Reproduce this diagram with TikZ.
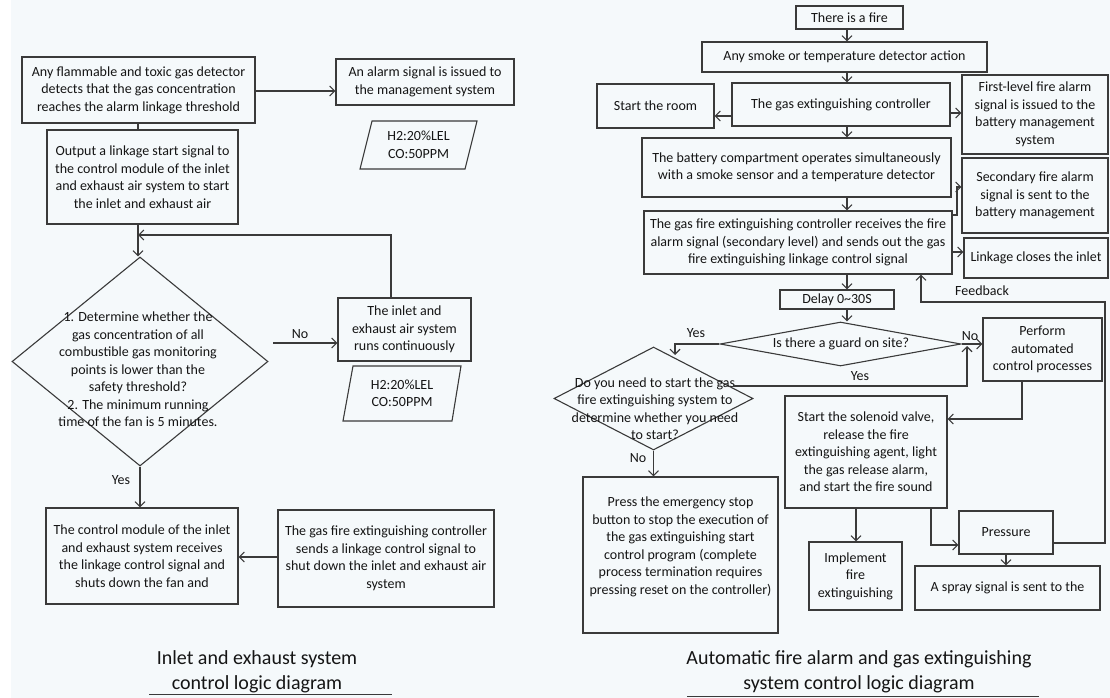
\documentclass[tikz,border=0pt]{standalone}
\usepackage{fontspec}
\setmainfont{Carlito}
\usetikzlibrary{arrows.meta,shapes.geometric,calc}
\definecolor{lc}{HTML}{3A3A3A}
\definecolor{tc}{HTML}{151515}
\definecolor{bg}{HTML}{F5F9FB}
\newcommand{\bxf}{\fontsize{14pt}{17.5pt}\selectfont}
\newcommand{\capf}{\fontsize{20pt}{25pt}\selectfont}
\begin{document}
\begin{tikzpicture}[x=1pt,y=-1pt,
  box/.style={draw=lc, line width=1.1pt, align=center, inner sep=0pt, font=\bxf, text=tc},
  txt/.style={align=center, inner sep=0pt, font=\bxf, text=tc},
  dia/.style={draw=lc, line width=1.1pt, diamond, inner sep=0pt},
  ln/.style={draw=lc, line width=1.1pt},
  arr/.style={ln, -{Straight Barb[length=5pt,width=10pt]}},
  captxt/.style={align=center, inner sep=0pt, font=\capf, text=tc}]
\fill[white] (0,0) rectangle (1110,698);
\fill[bg] (11,0) rectangle (1110,698);
\useasboundingbox (0,0) rectangle (1110,698);
% ---------------- left diagram ----------------
\node[box, minimum width=233pt, minimum height=66pt] (A) at (138.5,90) {Any flammable and toxic gas detector\\detects that the gas concentration\\reaches the alarm linkage threshold};
\node[box, minimum width=178pt, minimum height=46pt] (B) at (425,82) {An alarm signal is issued to\\the management system};
\coordinate (yab) at (0,91);
\draw[arr] (A.east |- yab) -- (B.west |- yab);
\coordinate (p1a) at (372,121); \coordinate (p1b) at (477,121);
\coordinate (p1c) at (465,169); \coordinate (p1d) at (360,169);
\draw[ln] (p1a) -- (p1b) -- (p1c) -- (p1d) -- cycle;
\node[txt] (P1) at (418.5,145) {H2:20\%LEL\\CO:50PPM};
\node[box, minimum width=191pt, minimum height=94pt] (C) at (142.5,177) {Output a linkage start signal to\\the control module of the inlet\\and exhaust air system to start\\the inlet and exhaust air};
\coordinate (xl) at (138,0);
\draw[ln] (A.south -| xl) -- (C.north -| xl);
\node[dia, minimum width=256pt, minimum height=209pt] (Q1) at (140,361.5) {};
\node[txt] (Q1t) at (138,369.5) {1. Determine whether the\\gas concentration of all\\combustible gas monitoring\\points is lower than the\\safety threshold?\\2. The minimum running\\time of the fan is 5 minutes.};
\draw[arr] (C.south -| xl) -- (Q1.north -| xl);
\node[box, minimum width=133pt, minimum height=63pt] (D) at (404.5,329.5) {The inlet and\\exhaust air system\\runs continuously};
\coordinate (lp) at (391,235);
\draw[arr] (D.north -| lp) -- (lp) -- (lp -| xl);
\coordinate (no1) at (273,343);
\draw[arr] (no1) -- (no1 -| D.west);
\node[txt] (NoL) at (300,334) {No};
\coordinate (p2a) at (353,366); \coordinate (p2b) at (461,366);
\coordinate (p2c) at (452,421); \coordinate (p2d) at (343,421);
\draw[ln] (p2a) -- (p2b) -- (p2c) -- (p2d) -- cycle;
\node[txt] (P2) at (402,393.5) {H2:20\%LEL\\CO:50PPM};
\node[box, minimum width=192pt, minimum height=96pt] (E) at (142,556) {The control module of the inlet\\and exhaust system receives\\the linkage control signal and\\shuts down the fan and};
\draw[arr] (Q1.south) -- (Q1.south |- E.north);
\node[txt] (YesL) at (121,480) {Yes};
\node[box, minimum width=216pt, minimum height=97pt] (F) at (386,558.5) {The gas fire extinguishing controller\\sends a linkage control signal to\\shut down the inlet and exhaust air\\system};
\coordinate (yfe) at (0,557);
\draw[arr] (F.west |- yfe) -- (E.east |- yfe);
\node[captxt] (capL) at (257,671.5) {Inlet and exhaust system\\control logic diagram};
\coordinate (ulA) at (149,694); \coordinate (ulB) at (392,694);
\draw[ln, line width=1pt] (ulA) -- (ulB);
% ---------------- right diagram ----------------
\coordinate (ax) at (847,0);
\node[box, minimum width=107pt, minimum height=23pt] (G) at (849.5,17.5) {There is a fire};
\node[box, minimum width=285pt, minimum height=30pt] (H) at (844.5,57) {Any smoke or temperature detector action};
\node[box, minimum width=218pt, minimum height=43pt] (I) at (841,104.5) {The gas extinguishing controller};
\node[box, minimum width=117pt, minimum height=44pt] (J) at (655.5,106) {Start the room};
\node[box, minimum width=146pt, minimum height=79pt] (K) at (1035,114.5) {First-level fire alarm\\signal is issued to the\\battery management\\system};
\node[box, minimum width=309pt, minimum height=59pt] (L) at (796.5,167.5) {The battery compartment operates simultaneously\\with a smoke sensor and a temperature detector};
\node[box, minimum width=146pt, minimum height=75pt] (M) at (1035,195.5) {Secondary fire alarm\\signal is sent to the\\battery management};
\node[box, minimum width=308pt, minimum height=63pt] (N) at (798,242.5) {The gas fire extinguishing controller receives the fire\\alarm signal (secondary level) and sends out the gas\\fire extinguishing linkage control signal};
\node[box, minimum width=144pt, minimum height=40pt] (O) at (1036,258) {Linkage closes the inlet};
\node[box, minimum width=114pt, minimum height=19pt] (Dl) at (837,299.5) {Delay 0\textasciitilde 30S};
\draw[arr] (G.south -| ax) -- (H.north -| ax);
\draw[arr] (H.south -| ax) -- (I.north -| ax);
\draw[arr] (I.south -| ax) -- (L.north -| ax);
\draw[arr] (L.south -| ax) -- (N.north -| ax);
\draw[arr] (N.south -| ax) -- (Dl.north -| ax);
\coordinate (yij) at (0,116);
\draw[arr] (I.west |- yij) -- (J.east |- yij);
\coordinate (yik) at (0,113);
\draw[arr] (I.east |- yik) -- (K.west |- yik);
\coordinate (nm1) at (0,215); \coordinate (nm2) at (957,187);
\draw[arr] (N.east |- nm1) -| (nm2) -- (M.west |- nm2);
\coordinate (yno) at (0,252);
\draw[arr] (N.east |- yno) -- (O.west |- yno);
\node[dia, minimum width=241pt, minimum height=44pt] (Q) at (840.5,344) {};
\node[txt] (Qt) at (841,344) {Is there a guard on site?};
\draw[arr] (Dl.south -| ax) -- (Q.north -| ax);
\coordinate (yl) at (675,344); \coordinate (yl2) at (675,355);
\draw[arr] (Q.west) -- (yl) -- (yl2);
\node[txt] (YesA) at (696,333) {Yes};
\node[dia, minimum width=199pt, minimum height=103pt] (R) at (653.5,398.5) {};
\node[txt] (Rt) at (655,408.5) {Do you need to start the gas\\fire extinguishing system to\\determine whether you need\\to start?};
\node[box, minimum width=119pt, minimum height=63pt] (S) at (1042.5,349.5) {Perform\\automated\\control processes};
\coordinate (yr1) at (733,386); \coordinate (yr2) at (967,346);
\draw[arr] (yr1) -| (yr2);
\node[txt] (YesB) at (860,376) {Yes};
\draw[arr] (Q.east) -- (Q.east -| S.west);
\node[txt] (NoB) at (970,336) {No};
\node[box, minimum width=162pt, minimum height=112pt] (T) at (866,452) {Start the solenoid valve,\\release the fire\\extinguishing agent, light\\the gas release alarm,\\and start the fire sound};
\coordinate (st) at (1022,419);
\draw[arr] (S.south -| st) |- (T.east |- st);
\node[box, minimum width=195pt, minimum height=156pt] (U) at (680.5,555) {};
\node[txt] (Ut) at (680.5,547) {Press the emergency stop\\button to stop the execution of\\the gas extinguishing start\\control program (complete\\process termination requires\\pressing reset on the controller)};
\draw[arr] (R.south) -- (R.south |- U.north);
\node[txt] (NoC) at (638,458) {No};
\node[box, minimum width=93pt, minimum height=68pt] (V) at (855.5,576) {Implement\\fire\\extinguishing};
\coordinate (tv) at (856,0);
\draw[arr] (T.south -| tv) -- (V.north -| tv);
\node[box, minimum width=94pt, minimum height=43pt] (W) at (1006,532.5) {Pressure};
\coordinate (tw) at (931,545);
\draw[arr] (T.south -| tw) |- (W.west |- tw);
\node[box, minimum width=185pt, minimum height=44pt] (X) at (1007.5,588) {A spray signal is sent to the};
\coordinate (wx) at (1006,0);
\draw[arr] (W.south -| wx) -- (X.north -| wx);
\coordinate (fb1) at (1105,543); \coordinate (fb2) at (921,302);
\draw[arr] (W.east |- fb1) -- (fb1) |- (fb2) -- (fb2 |- N.south);
\node[txt] (FbL) at (982,291) {Feedback};
\node[captxt] (capR) at (859,671.5) {Automatic fire alarm and gas extinguishing\\system control logic diagram};
\coordinate (urA) at (687,696); \coordinate (urB) at (1039,696);
\draw[ln, line width=1pt] (urA) -- (urB);
\end{tikzpicture}
\end{document}
